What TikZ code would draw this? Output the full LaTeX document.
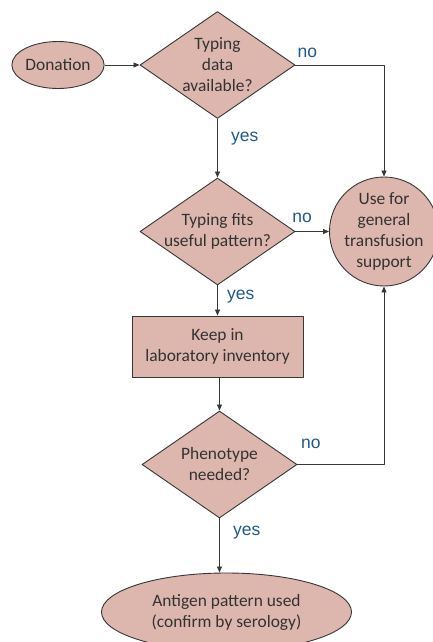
\documentclass[tikz,border=0pt]{standalone}
\usepackage{fontspec}
\setmainfont{Carlito}
\newfontfamily\ansfont{Liberation Sans}
\usetikzlibrary{shapes.geometric,arrows.meta}
\definecolor{boxfill}{RGB}{221,183,174}
\definecolor{boxline}{RGB}{55,55,55}
\definecolor{boxtext}{RGB}{50,50,50}
\definecolor{ansblue}{RGB}{31,90,140}
\tikzset{
  box/.style={draw=boxline,fill=boxfill,line width=0.9pt,text=boxtext,align=center},
  dtext/.style={text=boxtext,align=center},
  decision/.style={box,diamond,minimum width=155pt,minimum height=107pt,inner sep=0pt},
  ans/.style={text=ansblue,font=\ansfont\fontsize{17.5}{20}\selectfont},
  link/.style={draw=boxline,line width=0.8pt,->}
}
\begin{document}
\begin{tikzpicture}[x=1pt,y=-1pt,line join=round,>={Triangle[length=6pt,width=5pt]},font=\fontsize{17.4}{21}\selectfont]
\useasboundingbox (0,0) rectangle (433,642);
% shapes
\node[box,ellipse,minimum width=87pt,minimum height=47pt,inner sep=0pt] (don) at (58,65) {Donation};
\node[decision,label={[dtext]center:{Typing\\data\\available?}}] (avail) at (217.5,65) {};
\node[decision,label={[dtext]center:{Typing fits\\useful pattern?}}] (fits) at (217.5,231.5) {};
\node[box,circle,minimum size=109pt,inner sep=0pt,label={[dtext]center:{Use for\\general\\transfusion\\support}}] (gen) at (384,231.5) {};
\node[box,rectangle,minimum width=171pt,minimum height=61pt] (keep) at (217.5,346.5) {Keep in\\laboratory inventory};
\node[decision,label={[dtext]center:{Phenotype\\needed?}}] (pheno) at (219.5,464.5) {};
\node[box,ellipse,minimum width=250pt,minimum height=78pt,inner sep=0pt] (antigen) at (226.5,612) {Antigen pattern used\\(confirm by serology)};
% connectors
\draw[link] (don) -- (avail.west);
\draw[link] (avail.east) -| node[ans,pos=0.067,above=4pt] {no} (gen.north);
\draw[link] (avail.south) -- node[ans,pos=0.33,right=10pt] {yes} (fits.north);
\draw[link] (fits.east) -- node[ans,pos=0.2,above=5pt] {no} (gen.west);
\draw[link] (fits.south) -- node[ans,pos=0.38,right=6pt] {yes} (keep.north);
\draw[link] (keep.south -| pheno.north) -- (pheno.north);
\draw[link] (pheno.east) -| node[ans,pos=0.077,above=12pt] {no} (gen.south);
\draw[link] (pheno.south) -- node[ans,pos=0.27,right=10pt] {yes} (pheno.south |- antigen.north);
\end{tikzpicture}
\end{document}
